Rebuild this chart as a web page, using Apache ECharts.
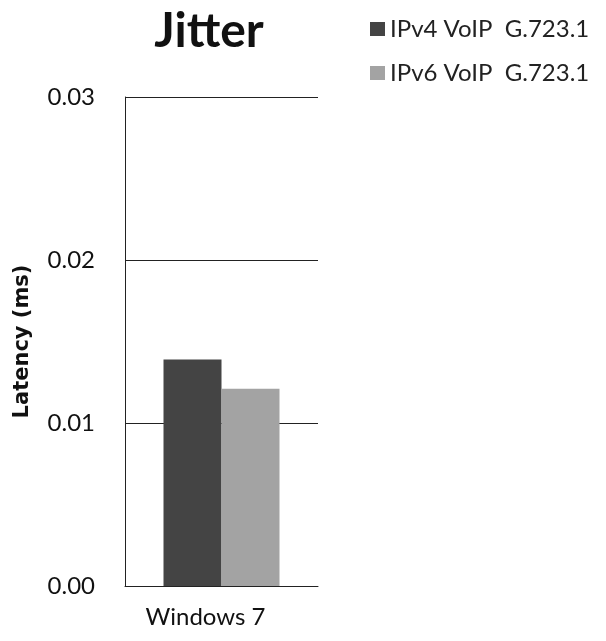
<!DOCTYPE html>
<html>
<head>
<meta charset="utf-8">
<script src="https://cdn.jsdelivr.net/npm/echarts@6/dist/echarts.min.js"></script>
<style>
  html, body { margin: 0; padding: 0; background: #fff; }
  #chart { width: 606px; height: 641px; }
</style>
</head>
<body>
<div id="chart"></div>
<script>
// Jitter measurements per operating system
const categories = ['Windows 7'];
const ipv4Jitter = [0.0139];
const ipv6Jitter = [0.0121];
const yTicks = [0, 0.01, 0.02, 0.03];
const seriesNames = ['IPv4 VoIP  G.723.1', 'IPv6 VoIP  G.723.1'];

const font = 'Lato, "Open Sans", sans-serif';
const chart = echarts.init(document.getElementById('chart'));

chart.setOption({
  backgroundColor: '#ffffff',
  animation: false,
  title: {
    text: 'Jitter',
    left: 204,
    textAlign: 'center',
    top: 3,
    textStyle: { fontFamily: font, fontSize: 48, fontWeight: 'bold', color: '#111' }
  },
  legend: {
    orient: 'vertical',
    left: 365,
    top: 12,
    itemGap: 20,
    itemWidth: 15,
    itemHeight: 14,
    icon: 'rect',
    textStyle: { fontFamily: font, fontSize: 24, color: '#222' },
    data: seriesNames
  },
  grid: { left: 125, right: 288, top: 97, bottom: 55 },
  xAxis: {
    type: 'category',
    data: categories,
    axisLine: { show: true, lineStyle: { color: '#222', width: 1 } },
    axisTick: { show: false },
    axisLabel: { fontFamily: font, fontSize: 24, color: '#111', margin: 19, padding: [0, 32, 0, 0] }
  },
  yAxis: {
    type: 'value',
    min: yTicks[0],
    max: yTicks[yTicks.length - 1],
    interval: 0.01,
    name: 'Latency (ms)',
    nameLocation: 'middle',
    nameGap: 92,
    nameTextStyle: { fontFamily: '"DejaVu Sans", sans-serif', fontSize: 21, fontWeight: 'bold', color: '#111' },
    axisLine: { show: true, lineStyle: { color: '#222', width: 1 } },
    axisTick: { show: false },
    splitLine: { show: true, lineStyle: { color: '#222', width: 1 } },
    axisLabel: {
      fontFamily: font, fontSize: 24, color: '#111', margin: 30,
      formatter: v => v.toFixed(2)
    }
  },
  series: [
    {
      name: seriesNames[0],
      type: 'bar',
      data: ipv4Jitter,
      barWidth: 58,
      barGap: '0%',
      itemStyle: { color: '#444444' }
    },
    {
      name: seriesNames[1],
      type: 'bar',
      data: ipv6Jitter,
      barWidth: 58,
      barGap: '0%',
      itemStyle: { color: '#a3a3a3' }
    }
  ]
});
</script>
</body>
</html>
